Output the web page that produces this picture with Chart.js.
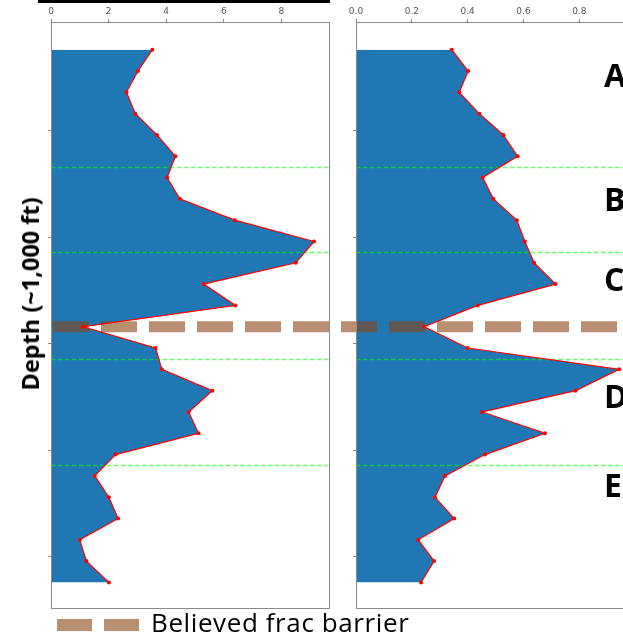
<!DOCTYPE html>
<html lang="en">
<head>
<meta charset="UTF-8">
<title>Depth profiles</title>
<script src="https://cdn.jsdelivr.net/npm/chart.js"></script>
<style>
  html, body { margin: 0; padding: 0; background: #fff; }
  body { width: 623px; height: 643px; overflow: hidden; position: relative; font-family: "Open Sans", sans-serif; color: #000; }
  canvas { position: absolute; top: 0; }
  #leftChart { left: 0; }
  #rightChart { left: 340px; }
  .topbar { position: absolute; left: 38px; top: 0; width: 292px; height: 3px; background: #000; }
  .ytitle { position: absolute; left: 30px; top: 294px; transform: translate(-50%, -50%) rotate(-90deg);
            font-weight: 700; font-size: 23.5px; white-space: nowrap; }
  .zone { position: absolute; left: 604px; font-weight: 700; font-size: 32px; line-height: 1; }
  .legend-dash { position: absolute; top: 619px; width: 35px; height: 12px; background: rgba(139, 69, 19, 0.6); }
  .legend-text { position: absolute; left: 151px; top: 608.5px; font-size: 26px; letter-spacing: 0.6px; line-height: 1; white-space: nowrap; }
</style>
</head>
<body>
  <div class="topbar"></div>
  <canvas id="leftChart" width="340" height="620"></canvas>
  <canvas id="rightChart" width="300" height="620"></canvas>

  <div class="ytitle">Depth (~1,000 ft)</div>

  <div class="zone" style="top:59px">A</div>
  <div class="zone" style="top:183px">B</div>
  <div class="zone" style="top:263px">C</div>
  <div class="zone" style="top:380px">D</div>
  <div class="zone" style="top:469px">E</div>

  <div class="legend-dash" style="left:57px"></div>
  <div class="legend-dash" style="left:104px"></div>
  <div class="legend-text">Believed frac barrier</div>

<script>
// sample depth index (top to bottom)
const depth = [0, 1, 2, 3, 4, 5, 6, 7, 8, 9, 10, 11, 12, 13, 14, 15, 16, 17, 18, 19, 20, 21, 22, 23, 24, 25];

const leftValues = [3.52, 3.02, 2.62, 2.93, 3.68, 4.32, 4.03, 4.47, 6.38, 9.13, 8.50, 5.30, 6.40,
                    1.11, 3.63, 3.85, 5.60, 4.78, 5.12, 2.24, 1.52, 2.01, 2.33, 1.00, 1.23, 2.01];
const rightValues = [0.343, 0.402, 0.370, 0.442, 0.528, 0.579, 0.454, 0.492, 0.576, 0.605, 0.638, 0.715, 0.436,
                     0.244, 0.400, 0.943, 0.787, 0.452, 0.677, 0.462, 0.319, 0.283, 0.352, 0.223, 0.280, 0.233];

const leftTicks = [0, 2, 4, 6, 8];
const rightTicks = [0, 0.2, 0.4, 0.6, 0.8];
const depthTicks = [3.8, 8.8, 13.8, 18.8, 23.8];

const zoneBounds = [5.5, 9.5, 14.5, 19.5];
const barrierDepth = 13;

const DASH = [36, 12];
let barrierStart = 0; // page x where the barrier dash pattern begins

const overlay = {
  id: 'overlay',
  afterDatasetDraw(chart, args, opts) {
    if (args.index !== 1) return;
    const { ctx, chartArea: a } = chart;
    const y = chart.scales.y;
    ctx.save();
    // zone boundaries
    ctx.strokeStyle = 'rgba(0, 255, 0, 0.6)';
    ctx.lineWidth = 1.5;
    ctx.setLineDash([4.5, 2.5]);
    ctx.beginPath();
    zoneBounds.forEach(d => {
      const py = Math.round(y.getPixelForValue(d)) + 0.5;
      ctx.moveTo(a.left, py);
      ctx.lineTo(a.right, py);
    });
    ctx.stroke();
    // frac barrier, runs across both panels
    const canvasLeft = chart.canvas.offsetLeft;
    let x0 = 0;
    if (opts.first) {
      x0 = a.left + 2;
      barrierStart = canvasLeft + x0;
    }
    const period = DASH[0] + DASH[1];
    ctx.setLineDash(DASH);
    ctx.lineDashOffset = opts.first ? 0 : ((canvasLeft - barrierStart) % period + period) % period;
    ctx.strokeStyle = 'rgba(139, 69, 19, 0.6)';
    ctx.lineWidth = 11;
    ctx.lineCap = 'butt';
    const by = y.getPixelForValue(barrierDepth);
    ctx.beginPath();
    ctx.moveTo(x0, by);
    ctx.lineTo(chart.width, by);
    ctx.stroke();
    ctx.restore();
  },
  afterDraw(chart) {
    const { ctx, chartArea: a } = chart;
    ctx.save();
    ctx.strokeStyle = '#8c8c8c';
    ctx.lineWidth = 1;
    ctx.strokeRect(Math.round(a.left) + 0.5, Math.round(a.top) + 0.5,
                   Math.round(a.right - a.left), Math.round(a.bottom - a.top));
    ctx.restore();
  }
};

function makeChart(id, values, xMax, xTicks, fmt, yWidth, padRight, first) {
  const pts = values.map((v, i) => ({ x: v, y: depth[i] }));
  return new Chart(document.getElementById(id), {
    type: 'line',
    data: {
      datasets: [
        {
          data: pts, order: 1, fill: false,
          borderColor: 'red', borderWidth: 1.2,
          pointRadius: 2, pointBackgroundColor: 'red', pointBorderWidth: 0
        },
        {
          data: pts, order: 2, fill: 'origin',
          backgroundColor: '#1f77b4', borderColor: 'rgba(0,0,0,0)', borderWidth: 0, pointRadius: 0
        }
      ]
    },
    options: {
      indexAxis: 'y',
      responsive: false,
      animation: false,
      layout: { padding: { left: 0, top: 0, right: padRight, bottom: 12 } },
      plugins: {
        legend: { display: false },
        tooltip: { enabled: false },
        overlay: { first: first }
      },
      scales: {
        x: {
          type: 'linear', position: 'top', min: 0, max: xMax,
          afterBuildTicks: s => { s.ticks = xTicks.map(v => ({ value: v })); },
          afterFit: s => { s.height = 22; },
          border: { display: false },
          grid: { drawOnChartArea: false, drawTicks: true, tickLength: 3, tickColor: '#888' },
          ticks: { color: '#555', padding: 2, maxRotation: 0, font: { family: 'DejaVu Sans', size: 9 }, callback: fmt }
        },
        y: {
          type: 'linear', reverse: true, min: -1.3, max: 26.2,
          afterBuildTicks: s => { s.ticks = depthTicks.map(v => ({ value: v })); },
          afterFit: s => { s.width = yWidth; },
          border: { display: false },
          grid: { drawOnChartArea: false, drawTicks: true, tickLength: 3, tickColor: '#888' },
          ticks: { display: false }
        }
      }
    },
    plugins: [overlay]
  });
}

makeChart('leftChart', leftValues, 9.65, leftTicks, v => String(v), 51, 11, true);
makeChart('rightChart', rightValues, 0.996, rightTicks, v => v.toFixed(1), 16, 6, false);
</script>
</body>
</html>
